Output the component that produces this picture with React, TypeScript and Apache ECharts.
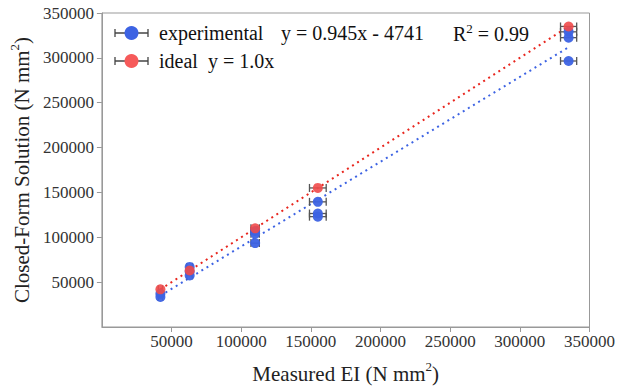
import React, { useEffect, useRef } from "react";
import * as echarts from "echarts";

// ---- data ----
const measuredX = [42000, 63000, 110000, 155000, 335000];
const xError = [1500, 2000, 3000, 6000, 5800];
// experimental values at each measured EI
const experimentalX = [42000, 42000, 63000, 63000, 63000, 110000, 110000, 110000, 155000, 155000, 155000, 335000, 335000, 335000];
const experimentalY = [37000, 33500, 67000, 62000, 57500, 107000, 104000, 93500, 139500, 126500, 123000, 329000, 322500, 296500];
const experimentalErr = [1500, 1500, 2000, 2000, 2000, 3000, 3000, 3000, 6000, 6000, 6000, 5800, 5800, 5800];
// ideal (closed-form) values
const idealY = [42000, 63000, 110000, 155000, 335000];
// fit parameters as reported in legend
const fitSlope = 0.945;
const fitIntercept = -4741;
const fitRangeX = [42000, 335000];
const idealRangeX = [42000, 335000];
const yTicks = [0, 350000, 50000]; // min, max, interval
const xTicks = [0, 350000, 50000];

const BLUE = "#3d63e3";
const RED = "#f04a4a";
const FONT = "Times New Roman";

export default function App() {
  const ref = useRef<HTMLDivElement>(null);
  useEffect(() => {
    if (!ref.current) return;
    const chart = echarts.init(ref.current, undefined, { renderer: "svg" });

    const expData = experimentalX.map((x, i) => [x, experimentalY[i], experimentalErr[i]]);
    const idealData = measuredX.map((x, i) => [x, idealY[i], xError[i]]);
    const fitData = fitRangeX.map((x) => [x, fitSlope * x + fitIntercept]);
    const idealLine = idealRangeX.map((x) => [x, x]);

    const errRender = (params: any, api: any) => {
      const x = api.value(0);
      const y = api.value(1);
      const e = api.value(2);
      const p0 = api.coord([x - e, y]);
      const p1 = api.coord([x + e, y]);
      const style = { stroke: "#555", lineWidth: 1.3 };
      return {
        type: "group",
        children: [
          { type: "line", shape: { x1: p0[0], y1: p0[1], x2: p1[0], y2: p1[1] }, style },
          { type: "line", shape: { x1: p0[0], y1: p0[1] - 4, x2: p0[0], y2: p0[1] + 4 }, style },
          { type: "line", shape: { x1: p1[0], y1: p1[1] - 4, x2: p1[0], y2: p1[1] + 4 }, style },
        ],
      };
    };

    const legendRow = (y: number, color: string) => [
      { type: "line", shape: { x1: 115, y1: y, x2: 148, y2: y }, style: { stroke: "#444", lineWidth: 1.3 } },
      { type: "line", shape: { x1: 115, y1: y - 4, x2: 115, y2: y + 4 }, style: { stroke: "#444", lineWidth: 1.3 } },
      { type: "line", shape: { x1: 148, y1: y - 4, x2: 148, y2: y + 4 }, style: { stroke: "#444", lineWidth: 1.3 } },
      { type: "circle", shape: { cx: 131.5, cy: y, r: 7 }, style: { fill: color } },
    ];
    const legendText = (x: number, y: number, text: string, rich?: any) => ({
      type: "text",
      x,
      y,
      style: {
        text,
        fontSize: 20,
        fontFamily: FONT,
        fill: "#111",
        verticalAlign: "middle",
        align: "left",
        rich,
      },
    });
    const supRich = {
      base: { fontSize: 20, fontFamily: FONT, color: "#111", verticalAlign: "bottom", lineHeight: 22 },
      sup: { fontSize: 13, fontFamily: FONT, color: "#111", verticalAlign: "top", lineHeight: 22 },
    };
    const nameRich = {
      b: { fontSize: 21, fontFamily: FONT, color: "#222", lineHeight: 24, verticalAlign: "bottom" },
      s: { fontSize: 13, fontFamily: FONT, color: "#222", lineHeight: 24, verticalAlign: "top" },
    };
    const fmt = (v: number) => String(v);

    chart.setOption({
      animation: false,
      textStyle: { fontFamily: FONT },
      grid: { left: 100, right: 26, top: 13, bottom: 59, show: true, borderColor: "#999", borderWidth: 1 },
      xAxis: {
        type: "value",
        min: xTicks[0],
        max: xTicks[1],
        interval: xTicks[2],
        name: "{b|Measured EI (N mm}{s|2}{b|)}",
        nameLocation: "middle",
        nameGap: 33,
        nameTextStyle: { fontFamily: FONT, rich: nameRich },
        splitLine: { show: false },
        axisLine: { lineStyle: { color: "#999" } },
        axisTick: { show: true, inside: false, length: 5, lineStyle: { color: "#999" } },
        axisLabel: { showMinLabel: false, fontSize: 17, color: "#333", margin: 6, fontFamily: FONT, formatter: fmt },
      },
      yAxis: {
        type: "value",
        min: yTicks[0],
        max: yTicks[1],
        interval: yTicks[2],
        name: "{b|Closed-Form Solution (N mm}{s|2}{b|)}",
        nameLocation: "middle",
        nameGap: 68,
        nameTextStyle: { fontFamily: FONT, rich: nameRich },
        splitLine: { show: false },
        axisLine: { lineStyle: { color: "#999" } },
        axisTick: { show: true, inside: false, length: 5, lineStyle: { color: "#999" } },
        axisLabel: { showMinLabel: false, fontSize: 17, color: "#333", margin: 8, fontFamily: FONT, formatter: fmt },
      },
      series: [
        {
          type: "line",
          data: fitData,
          showSymbol: false,
          symbol: "none",
          lineStyle: { color: BLUE, width: 2, type: [2, 4] },
          z: 2,
        },
        {
          type: "line",
          data: idealLine,
          showSymbol: false,
          symbol: "none",
          lineStyle: { color: "#e8261e", width: 2, type: [2, 4] },
          z: 2,
        },
        { type: "custom", data: expData, renderItem: errRender, z: 3 },
        { type: "custom", data: idealData, renderItem: errRender, z: 3 },
        {
          type: "scatter",
          data: expData.map((d) => [d[0], d[1]]),
          symbolSize: 10,
          itemStyle: { color: BLUE, opacity: 0.95 },
          z: 4,
        },
        {
          type: "scatter",
          data: idealData.map((d) => [d[0], d[1]]),
          symbolSize: 10,
          itemStyle: { color: RED, opacity: 0.9 },
          z: 5,
        },
      ],
      graphic: [
        ...legendRow(33, BLUE),
        ...legendRow(61, "#f65a5a"),
        legendText(159, 33, "experimental"),
        legendText(281, 33, "y = 0.945x - 4741"),
        legendText(453, 33, "{base|R}{sup|2}{base| = 0.99}", supRich),
        legendText(159, 61, "ideal"),
        legendText(208, 61, "y = 1.0x"),
      ],
    });
    return () => chart.dispose();
  }, []);
  return (
    <div
      ref={ref}
      style={{ position: "absolute", left: 0, top: 0, width: 618, height: 389, background: "#fff" }}
    />
  );
}
